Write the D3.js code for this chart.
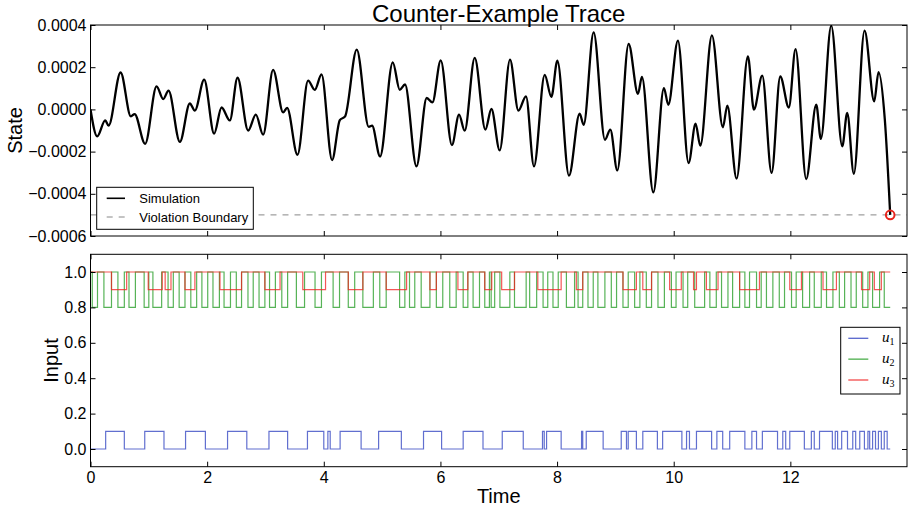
<!DOCTYPE html>
<html><head><meta charset="utf-8">
<script src="https://cdn.jsdelivr.net/npm/d3@7"></script>
<style>
body{margin:0;background:#fff}
svg{display:block}
text{font-family:"Liberation Sans",Arial,sans-serif;fill:#000}
</style>
</head><body>
<svg id="c" width="910" height="510"></svg>
<script>
// ---------- data ----------
const titleText = "Counter-Example Trace";
const tEnd = 13.712;
const xTicks = [0, 2, 4, 6, 8, 10, 12];
const stateTicks = [-0.0006, -0.0004, -0.0002, 0.0, 0.0002, 0.0004];
const inputTicks = [0.0, 0.2, 0.4, 0.6, 0.8, 1.0];
const violationBoundary = -0.0005;

const stateTime = [0, 0.115, 0.252, 0.310, 0.516, 0.692, 0.756, 0.937, 1.133, 1.246, 1.338, 1.532, 1.703, 1.789, 1.949, 2.120, 2.247, 2.389, 2.521, 2.703, 2.835, 2.960, 3.131, 3.303, 3.371, 3.549, 3.731, 3.846, 3.961, 4.142, 4.275, 4.366, 4.565, 4.771, 4.828, 4.965, 5.183, 5.302, 5.393, 5.589, 5.765, 5.863, 6.005, 6.197, 6.319, 6.416, 6.588, 6.771, 6.874, 7.016, 7.193, 7.337, 7.467, 7.604, 7.788, 7.902, 8.005, 8.204, 8.387, 8.456, 8.627, 8.821, 8.913, 9.033, 9.227, 9.387, 9.455, 9.650, 9.832, 9.907, 10.072, 10.255, 10.375, 10.456, 10.655, 10.843, 10.919, 11.078, 11.272, 11.375, 11.518, 11.678, 11.827, 11.974, 12.089, 12.272, 12.444, 12.523, 12.701, 12.890, 12.975, 13.088, 13.272, 13.438, 13.512, 13.620, 13.712];
const stateValue = [0, -1.28e-4, -0.52e-4, -0.77e-4, 1.75e-4, -0.33e-4, -0.22e-4, -1.63e-4, 1.09e-4, 0.49e-4, 0.89e-4, -1.54e-4, 0.28e-4, -0.06e-4, 1.41e-4, -1.15e-4, 0.09e-4, -0.52e-4, 1.50e-4, -1.00e-4, -0.25e-4, -1.20e-4, 1.87e-4, -0.14e-4, 0.07e-4, -2.15e-4, 1.36e-4, 0.93e-4, 1.66e-4, -2.40e-4, -0.51e-4, -0.33e-4, 2.83e-4, -0.83e-4, -0.77e-4, -2.23e-4, 2.23e-4, 0.93e-4, 1.18e-4, -2.70e-4, 0.54e-4, 0.33e-4, 2.32e-4, -1.69e-4, -0.25e-4, -1.01e-4, 2.44e-4, -0.96e-4, 0.02e-4, -1.94e-4, 2.36e-4, -0.06e-4, 0.62e-4, -2.70e-4, 1.64e-4, 0.59e-4, 2.31e-4, -3.14e-4, -0.20e-4, -0.73e-4, 3.65e-4, -1.44e-4, -0.96e-4, -2.89e-4, 3.10e-4, 0.74e-4, 1.54e-4, -3.93e-4, 1.01e-4, 0.22e-4, 3.26e-4, -2.54e-4, -0.68e-4, -1.72e-4, 3.51e-4, -0.85e-4, 0.18e-4, -3.28e-4, 2.51e-4, -0.01e-4, 1.60e-4, -3.01e-4, 1.56e-4, 0.09e-4, 2.86e-4, -3.30e-4, 0.22e-4, -1.40e-4, 3.97e-4, -1.75e-4, -0.17e-4, -3.05e-4, 3.73e-4, 0.38e-4, 1.77e-4, -0.49e-4, -5.00e-4];

// input switching times (value toggles at each listed time)
const u1Levels = [0.0, 0.1];
const u1Switch = [0.26, 0.58, 0.93, 1.26, 1.63, 1.97, 2.35, 2.68, 3.06, 3.38, 3.72, 4.00, 4.07, 4.11, 4.28, 4.64, 4.94, 5.33, 5.71, 6.02, 6.39, 6.73, 7.06, 7.42, 7.75, 7.78, 7.82, 8.07, 8.42, 8.44, 8.50, 8.79, 9.10, 9.19, 9.22, 9.36, 9.47, 9.72, 9.81, 10.14, 10.22, 10.27, 10.39, 10.65, 10.74, 10.84, 10.96, 11.22, 11.34, 11.42, 11.52, 11.78, 11.87, 11.92, 11.99, 12.24, 12.36, 12.41, 12.50, 12.72, 12.77, 12.81, 12.88, 12.98, 13.07, 13.12, 13.19, 13.27, 13.33, 13.36, 13.41, 13.46, 13.51, 13.56, 13.61, 13.66];
const u2Levels = [1.0, 0.8];
const u2Switch = [0.03, 0.12, 0.23, 0.36, 0.47, 0.58, 0.66, 0.77, 0.92, 1.00, 1.07, 1.22, 1.33, 1.42, 1.52, 1.62, 1.72, 1.82, 1.91, 2.01, 2.10, 2.21, 2.29, 2.40, 2.50, 2.59, 2.70, 2.79, 2.89, 2.99, 3.07, 3.17, 3.28, 3.38, 3.53, 3.67, 3.85, 3.96, 4.16, 4.27, 4.42, 4.53, 4.67, 4.85, 4.96, 5.07, 5.30, 5.39, 5.47, 5.56, 5.67, 5.82, 5.93, 6.04, 6.16, 6.27, 6.39, 6.47, 6.56, 6.67, 6.76, 6.84, 6.87, 6.93, 7.02, 7.19, 7.27, 7.47, 7.53, 7.65, 7.76, 7.84, 7.93, 8.02, 8.16, 8.30, 8.36, 8.44, 8.53, 8.62, 8.70, 8.82, 8.93, 9.02, 9.13, 9.22, 9.33, 9.42, 9.53, 9.62, 9.73, 9.84, 9.96, 10.04, 10.16, 10.24, 10.36, 10.53, 10.62, 10.73, 10.82, 10.93, 11.01, 11.13, 11.22, 11.30, 11.42, 11.50, 11.59, 11.70, 11.81, 11.90, 12.02, 12.10, 12.21, 12.33, 12.41, 12.53, 12.62, 12.73, 12.84, 12.93, 13.04, 13.13, 13.24, 13.33, 13.41, 13.53, 13.61];
const u3Levels = [1.0, 0.9];
const u3Switch = [0.36, 0.62, 0.99, 1.23, 1.28, 1.38, 1.62, 1.79, 2.22, 2.59, 2.99, 3.25, 3.64, 4.03, 4.42, 4.67, 5.07, 5.42, 5.82, 5.93, 6.30, 6.47, 6.76, 6.88, 7.05, 7.27, 7.67, 8.07, 8.33, 8.44, 9.13, 9.36, 9.47, 9.62, 9.93, 10.13, 10.34, 10.39, 10.56, 10.76, 11.13, 11.47, 11.99, 12.19, 12.56, 12.79, 13.22, 13.36, 13.44, 13.56];

const legendTop = ["Simulation", "Violation Boundary"];
const legendBottom = ["1", "2", "3"];

// ---------- layout ----------
const svg = d3.select("#c");
const L = 90.5, R = 907;
const T1 = 25, B1 = 236, T2 = 254.3, B2 = 466.7;
const x = d3.scaleLinear().domain([0, 14]).range([L, R]);
const y1 = d3.scaleLinear().domain([-0.0006, 0.0004]).range([B1, T1]);
const y2 = d3.scaleLinear().domain([-0.1, 1.1]).range([B2, T2]);
const TS = 5;

svg.append("defs").call(d => {
  d.append("clipPath").attr("id", "clip1").append("rect").attr("x", L).attr("y", T1).attr("width", R - L).attr("height", B1 - T1);
  d.append("clipPath").attr("id", "clip2").append("rect").attr("x", L).attr("y", T2).attr("width", R - L).attr("height", B2 - T2);
});

function axes(yScale, yTicks, yFmt, top, bottom, showX) {
  const g = svg.append("g");
  const fs = "16px";
  const ax = g.append("g").attr("transform", `translate(${L},0)`)
    .call(d3.axisLeft(yScale).tickValues(yTicks).tickFormat(yFmt).tickSize(-TS).tickPadding(4));
  ax.selectAll("text").style("font-size", fs);
  g.append("g").attr("transform", `translate(${R},0)`)
    .call(d3.axisRight(yScale).tickValues(yTicks).tickFormat("").tickSize(-TS));
  const bx = g.append("g").attr("transform", `translate(0,${bottom})`)
    .call(d3.axisBottom(x).tickValues(xTicks).tickFormat(showX ? d3.format("d") : "").tickSize(-TS).tickPadding(5));
  bx.selectAll("text").style("font-size", fs);
  g.append("g").attr("transform", `translate(0,${top})`)
    .call(d3.axisTop(x).tickValues(xTicks).tickFormat("").tickSize(-TS));
  g.selectAll(".domain").remove();
  g.selectAll(".tick line").attr("stroke", "#000");
  g.append("rect").attr("x", L).attr("y", top).attr("width", R - L).attr("height", bottom - top)
    .attr("fill", "none").attr("stroke", "#000").attr("stroke-width", 1);
}

// ---------- top panel ----------
const pts = stateTime.map((t, i) => [t, stateValue[i]]);
const gTop = svg.append("g").attr("clip-path", "url(#clip1)");
gTop.append("line").attr("x1", x(0)).attr("x2", x(14)).attr("y1", y1(violationBoundary)).attr("y2", y1(violationBoundary))
  .attr("stroke", "#888").attr("stroke-width", 1).attr("stroke-dasharray", "6,6");
gTop.append("path").datum(pts)
  .attr("d", d3.line().x(d => x(d[0])).y(d => y1(d[1])).curve(d3.curveMonotoneX))
  .attr("fill", "none").attr("stroke", "#000").attr("stroke-width", 2.3).attr("stroke-linejoin", "round");
svg.append("circle").attr("cx", x(tEnd)).attr("cy", y1(stateValue[stateValue.length - 1])).attr("r", 4.3)
  .attr("fill", "none").attr("stroke", "#e8241c").attr("stroke-width", 2);
axes(y1, stateTicks, d3.format(".4f"), T1, B1, false);

// legend top
const lg1 = svg.append("g");
lg1.append("rect").attr("x", 96.7).attr("y", 187.3).attr("width", 156.6).attr("height", 42)
  .attr("fill", "#fff").attr("stroke", "#000").attr("stroke-width", 1);
lg1.append("line").attr("x1", 106.7).attr("x2", 125).attr("y1", 198.3).attr("y2", 198.3).attr("stroke", "#000").attr("stroke-width", 1.6);
lg1.append("line").attr("x1", 106.7).attr("x2", 125).attr("y1", 217).attr("y2", 217).attr("stroke", "#888").attr("stroke-width", 1).attr("stroke-dasharray", "6,6");
lg1.selectAll("text.l").data(legendTop).join("text")
  .attr("x", 139.3).attr("y", (d, i) => 198.3 + i * 18.7).attr("dy", "0.35em").style("font-size", "13px").text(d => d);

// ---------- bottom panel ----------
function steps(sw, lv) {
  let k = 0;
  const out = [[0, lv[0]]];
  sw.forEach(t => { k = 1 - k; out.push([t, lv[k]]); });
  out.push([tEnd, lv[k]]);
  return out;
}
const stepLine = d3.line().x(d => x(d[0])).y(d => y2(d[1])).curve(d3.curveStepAfter);
const gBot = svg.append("g").attr("clip-path", "url(#clip2)");
const series = [
  {sw: u1Switch, lv: u1Levels, c: "#2c3fbf"},
  {sw: u2Switch, lv: u2Levels, c: "#1f9a1f"},
  {sw: u3Switch, lv: u3Levels, c: "#f01e1e"}
];
series.forEach(s => {
  gBot.append("path").datum(steps(s.sw, s.lv)).attr("d", stepLine)
    .attr("fill", "none").attr("stroke", s.c).attr("stroke-width", 1.2).attr("stroke-opacity", 0.75);
});
axes(y2, inputTicks, d3.format(".1f"), T2, B2, true);

// legend bottom
const lg2 = svg.append("g");
lg2.append("rect").attr("x", 840.7).attr("y", 327.3).attr("width", 59.3).attr("height", 66.7)
  .attr("fill", "#fff").attr("stroke", "#000").attr("stroke-width", 1);
legendBottom.forEach((s, i) => {
  const yy = 338.3 + i * 20.85;
  lg2.append("line").attr("x1", 848.3).attr("x2", 868.3).attr("y1", yy).attr("y2", yy)
    .attr("stroke", series[i].c).attr("stroke-width", 1.3).attr("stroke-opacity", 0.8);
  const t = lg2.append("text").attr("x", 882).attr("y", yy + 4)
    .style("font-family", "'Liberation Serif','DejaVu Serif',serif").style("font-style", "italic").style("font-size", "15px");
  t.append("tspan").text("u");
  t.append("tspan").attr("dy", 3).style("font-size", "10px").style("font-style", "normal").text(s);
});

// ---------- titles ----------
svg.append("text").attr("x", (L + R) / 2).attr("y", 21.5).attr("text-anchor", "middle").style("font-size", "24px").text(titleText);
svg.append("text").attr("transform", `translate(21.5,${(T1 + B1) / 2}) rotate(-90)`).attr("text-anchor", "middle").style("font-size", "20px").text("State");
svg.append("text").attr("transform", `translate(58,${(T2 + B2) / 2}) rotate(-90)`).attr("text-anchor", "middle").style("font-size", "20px").text("Input");
svg.append("text").attr("x", (L + R) / 2).attr("y", 503).attr("text-anchor", "middle").style("font-size", "20px").text("Time");
</script>
</body></html>
